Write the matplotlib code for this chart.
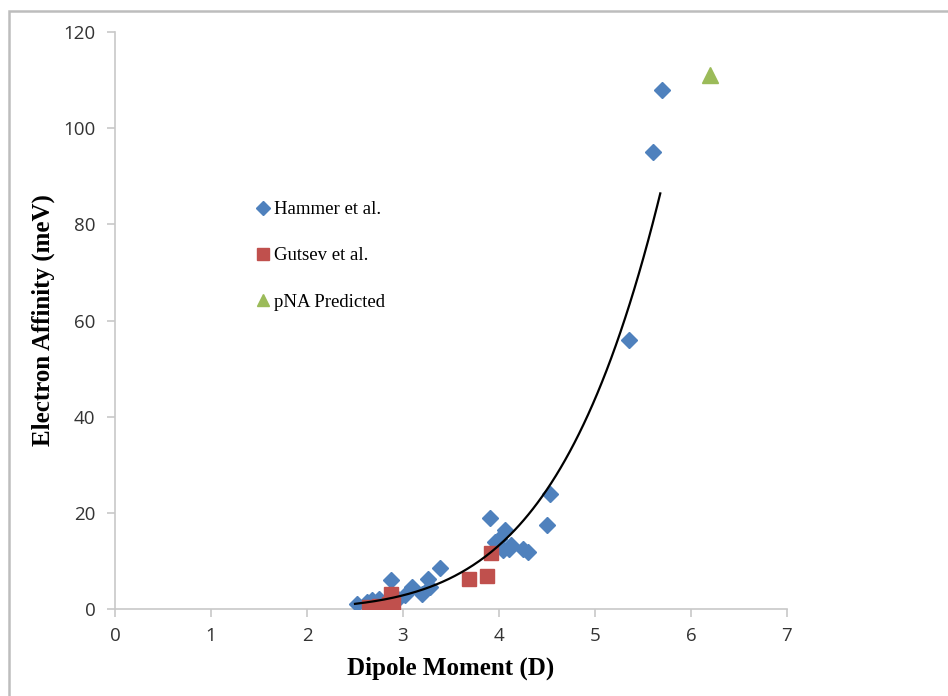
import numpy as np
import matplotlib
matplotlib.use('Agg')
import matplotlib.pyplot as plt
from matplotlib.patches import Rectangle

# --- Data (dipole moment in D, electron affinity in meV) --- #
hammer_dipole = [2.52, 2.62, 2.68, 2.75, 2.87, 2.95, 3.02, 3.09, 3.2, 3.26, 3.28, 3.39,
                 3.91, 3.96, 4.0, 4.04, 4.06, 4.1, 4.13, 4.25, 4.3, 4.5, 4.53,
                 5.35, 5.6, 5.7]
hammer_ea     = [1.0, 1.5, 1.8, 2.0, 6.0, 2.0, 3.0, 4.5, 3.2, 6.2, 4.5, 8.5,
                 19.0, 14.0, 14.5, 12.3, 16.4, 12.5, 13.3, 12.5, 11.8, 17.5, 24.0,
                 56.0, 95.0, 108.0]

gutsev_dipole = [2.65, 2.75, 2.85, 2.87, 2.9, 3.69, 3.87, 3.92]
gutsev_ea     = [0.5, 0.6, 1.0, 3.2, 1.2, 6.2, 6.9, 11.6]

pna_dipole = [6.2]
pna_ea     = [111.0]

# power-law trendline  EA = coef * D^power
trend_coef  = 0.00796
trend_power = 5.35
trend_range = (2.5, 5.68)

blue  = '#4F81BD'
red   = '#C0504D'
green = '#9BBB59'
axis_grey = '#c8c8c8'

fig = plt.figure(figsize=(9.48, 6.96), dpi=100)
ax = fig.add_axes([115/948, 1 - 609/696, 672/948, 577/696])

ax.plot(hammer_dipole, hammer_ea, 'D', color=blue, markersize=8.5, linestyle='none',
        label='Hammer et al.', zorder=3)
ax.plot(gutsev_dipole, gutsev_ea, 's', color=red, markersize=9.5, linestyle='none',
        label='Gutsev et al.', zorder=3)
ax.plot(pna_dipole, pna_ea, '^', color=green, markersize=11, linestyle='none',
        label='pNA Predicted', zorder=3)

xs = np.linspace(trend_range[0], trend_range[1], 200)
ax.plot(xs, trend_coef * xs**trend_power, color='black', linewidth=1.6, zorder=4)

ax.set_xlim(0, 7)
ax.set_ylim(0, 120)
ax.set_xticks(range(0, 8))
ax.set_yticks(range(0, 121, 20))

for side in ['top', 'right']:
    ax.spines[side].set_visible(False)
for side in ['left', 'bottom']:
    ax.spines[side].set_color(axis_grey)
    ax.spines[side].set_linewidth(1.2)
ax.tick_params(direction='out', length=6, width=1.2, color=axis_grey,
               labelcolor='#333333', labelsize=13.5)
for lbl in ax.get_xticklabels() + ax.get_yticklabels():
    lbl.set_family('Open Sans')
ax.tick_params(axis='y', pad=8)
ax.tick_params(axis='x', pad=7)

ax.set_xlabel('Dipole Moment (D)', family='Liberation Serif', fontweight='bold',
              fontsize=18, labelpad=8)
ax.set_ylabel('Electron Affinity (meV)', family='Liberation Serif', fontweight='bold',
              fontsize=18, labelpad=6)

leg = ax.legend(loc='upper left', bbox_to_anchor=(0.2, 0.72), frameon=False,
                prop={'family': 'Liberation Serif', 'size': 13.5},
                handlelength=0.6, handletextpad=0.3, labelspacing=1.55,
                borderaxespad=0, markerscale=0.85)

# outer chart border
fig.patches.append(Rectangle((9/948, -0.1), 1.2, 1.1 - 11/696,
                             transform=fig.transFigure, fill=False,
                             edgecolor='#bdbdbd', linewidth=1.8))

fig.savefig('out.png', dpi=100)
